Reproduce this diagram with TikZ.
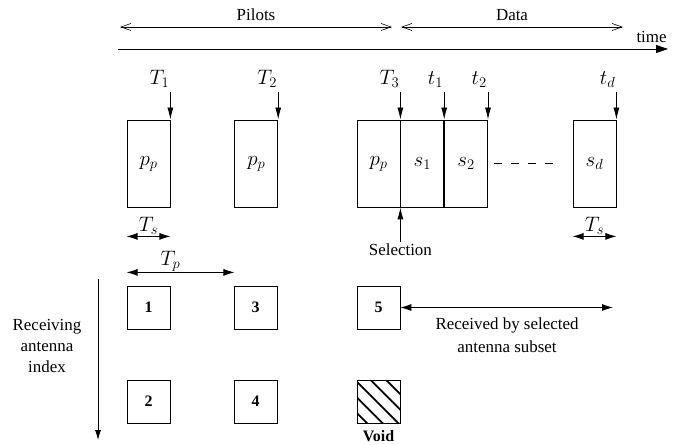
\RequirePackage{fix-cm}
\documentclass[tikz,border=0pt]{standalone}
\usepackage{fontspec}
\setmainfont{Liberation Serif}
\usepackage{amsmath}
\usetikzlibrary{arrows.meta, positioning, calc, patterns.meta}

\begin{document}
\begin{tikzpicture}[x=1bp, y=-1bp,
  slot/.style={draw, line width=0.8bp, minimum width=43bp, minimum height=87bp, inner sep=0pt, font=\fontsize{21}{24}\selectfont},
  antbox/.style={draw, line width=0.8bp, minimum width=43bp, minimum height=43bp, inner sep=0pt, font=\fontsize{16}{18}\selectfont\bfseries},
  txt/.style={font=\fontsize{17}{21}\selectfont, inner sep=1bp},
  tlab/.style={font=\fontsize{21}{24}\selectfont, inner sep=1bp, anchor=south east},
  tick/.style={-{Latex[length=12bp,width=6bp]}, line width=0.8bp},
  span/.style={{Latex[length=11bp,width=7bp]}-{Latex[length=11bp,width=7bp]}, line width=0.8bp},
  phase/.style={{Straight Barb[length=10bp,width=7bp]}-{Straight Barb[length=10bp,width=7bp]}, line width=0.6bp}]

  \useasboundingbox (0,0) rectangle (683,445);

  % time line with the two phases
  \coordinate (pil-a) at (120,27);
  \coordinate (pil-b) at (392,27);
  \coordinate (dat-a) at (401,27);
  \coordinate (dat-b) at (623,27);
  \draw[phase] (pil-a) -- (pil-b) node[txt, midway, above=5bp] (pilots) {Pilots};
  \draw[phase] (dat-a) -- (dat-b) node[txt, midway, above=5bp] (data) {Data};
  \coordinate (time-a) at (118,49);
  \coordinate (time-b) at (668,49);
  \draw[line width=0.8bp, -{Triangle[length=12bp,width=8bp]}] (time-a) -- (time-b)
    node[txt, anchor=south east, yshift=5bp] (time) {time};

  % slots
  \node[slot] (p1) at (148.5,163.5) {$p_p$};
  \node[slot, right=64bp of p1] (p2) {$p_p$};
  \node[slot] (p3) at (378.5,163.5) {$p_p$};
  \node[slot, right=0pt of p3] (s1) {$s_1$};
  \node[slot, right=0pt of s1] (s2) {$s_2$};
  \node[slot] (sd) at (594.5,163.5) {$s_d$};
  \draw[line width=0.8bp, dash pattern=on 8bp off 9bp, shorten <=6bp, shorten >=18bp] (s2.east) -- (sd.west);

  \foreach \b/\l in {p1/T_1, p2/T_2, p3/T_3, s1/t_1, s2/t_2, sd/t_d} {
    \coordinate (top-\b) at ($(\b.north east)+(0,-28)$);
    \draw[tick] (top-\b) -- (\b.north east);
    \node[tlab] (lab-\b) at ($(top-\b)+(0,-3)$) {$\l$};
  }

  % selection instant
  \coordinate (sel-foot) at ($(p3.south east)+(0,35)$);
  \draw[tick] (sel-foot) -- (p3.south east);
  \node[txt, anchor=north] (sel) at (sel-foot) {Selection};

  % durations
  \draw[span] ([yshift=-29bp]p1.south west) -- ([yshift=-29bp]p1.south east)
    node[midway, above, inner sep=1bp, font=\fontsize{21}{24}\selectfont] (ts1) {$T_s$};
  \draw[span] ([yshift=-29bp]sd.south west) -- ([yshift=-29bp]sd.south east)
    node[midway, above, inner sep=1bp, font=\fontsize{21}{24}\selectfont] (ts2) {$T_s$};
  \draw[span] ([yshift=-65bp]p1.south west) -- ([yshift=-65bp]p2.south west)
    node[midway, above, xshift=-10bp, inner sep=1bp, font=\fontsize{21}{24}\selectfont] (tp) {$T_p$};

  % receiving antennas
  \coordinate (ax-top) at (98,279);
  \coordinate (ax-bot) at (98,440);
  \draw[line width=0.8bp, -{Latex[length=10bp,width=6bp]}] (ax-top) -- (ax-bot);
  \node[txt, align=center, font=\fontsize{17}{21}\selectfont] (axlab) at (47,346) {Receiving\\antenna\\index};

  \node[antbox] (r1) at (148.5,307.5) {1};
  \node[antbox] (r2) at (148.5,401.5) {2};
  \node[antbox] (r3) at (255.5,307.5) {3};
  \node[antbox] (r4) at (255.5,401.5) {4};
  \node[antbox] (r5) at (378.5,307.5) {5};
  \node[antbox, pattern={Lines[angle=-45,distance=11bp,line width=1.8bp]}] (void) at (378.5,401.5) {};
  \node[txt, below=5bp of void, font=\fontsize{16}{18}\selectfont\bfseries] (voidlab) {Void};

  \coordinate (rcv-end) at (613,307.5);
  \draw[span] (r5.east) -- (rcv-end);
  \node[txt, align=center, font=\fontsize{17}{23}\selectfont] (rcv) at (507,335) {Received by selected\\antenna subset};
\end{tikzpicture}
\end{document}
